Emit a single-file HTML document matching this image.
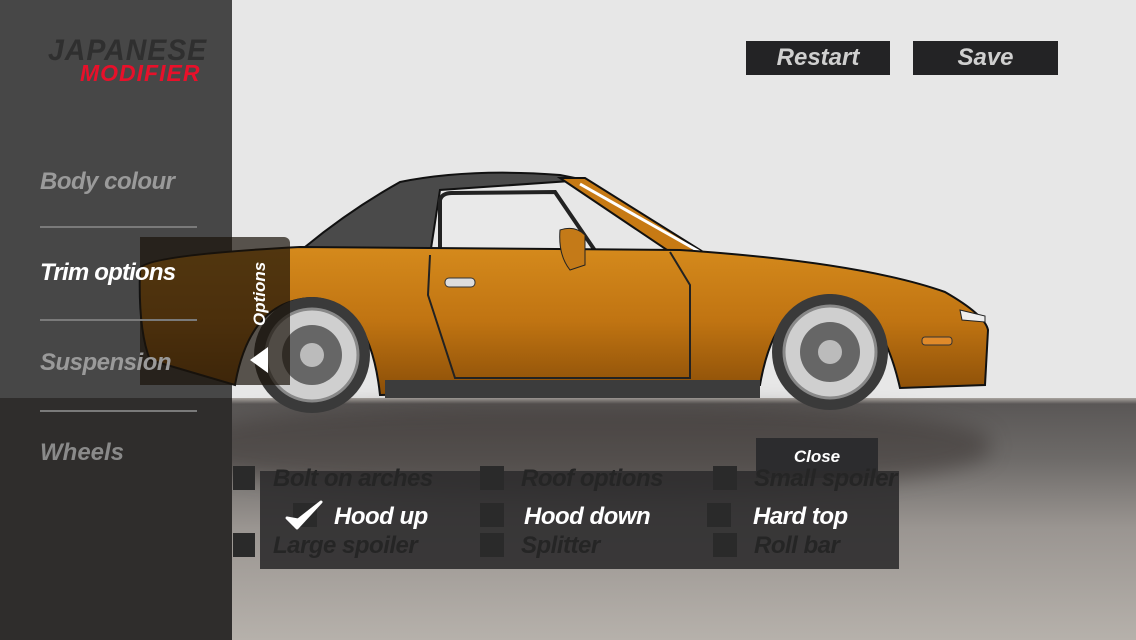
<!DOCTYPE html>
<html><head><meta charset="utf-8"><style>
*{margin:0;padding:0;box-sizing:border-box}
body{width:1136px;height:640px;overflow:hidden;position:relative;font-family:"Liberation Sans",sans-serif;background:#e6e6e6}
.abs{position:absolute}
.t{font-weight:bold;font-style:italic}
</style></head><body>
<div class="abs" style="left:0;top:0;width:1136px;height:398px;background:#e7e7e7"></div>
<div class="abs" style="left:0;top:398px;width:1136px;height:242px;background:linear-gradient(#a9a49f 0px,#5a5756 6px,#6d6a68 60px,#9a9591 130px,#b6b1ab 242px)"></div>
<div class="abs" style="left:180px;top:405px;width:810px;height:90px;background:rgba(50,45,42,0.45);border-radius:40% 40% 50% 50%;filter:blur(10px)"></div>
<div class="abs" style="left:0;top:0;width:232px;height:398px;background:#474747"></div>
<div class="abs" style="left:0;top:398px;width:232px;height:242px;background:#2f2d2c"></div>
<div class="abs t" style="left:48px;top:34px;font-size:30px;color:#2f2f2f;letter-spacing:1px;transform:scaleX(0.95);transform-origin:left">JAPANESE</div>
<div class="abs t" style="left:80px;top:60px;font-size:23px;color:#e8102a;letter-spacing:1px">MODIFIER</div>
<svg class="abs" style="left:0;top:0" width="1136" height="640">
<defs><linearGradient id="bd" x1="0" y1="0" x2="0" y2="1"><stop offset="0" stop-color="#d58a1c"/><stop offset="0.5" stop-color="#c07412"/><stop offset="1" stop-color="#8a4e08"/></linearGradient></defs>
<path d="M305,247 Q350,210 400,182 Q470,168 560,175 L585,180 L440,190 L430,255 Z" fill="#4a4a4a" stroke="#111" stroke-width="2"/>
<path d="M440,200 Q442,193 452,193 L555,192 L598,255 L440,255 Z" fill="#e9e9e9" stroke="#222" stroke-width="4"/>
<path d="M560,178 L585,178 L700,250 L670,252 Z" fill="#c77a14" stroke="#111" stroke-width="2"/>
<path d="M580,184 L700,252" stroke="#fff" stroke-width="3"/>
<path d="M140,268 Q150,255 300,247 L680,250 Q860,262 945,292 Q985,315 988,330 L985,385 L900,388 Q880,300 830,295 Q775,298 760,385 L380,395 Q370,300 312,298 Q250,300 235,385 L150,360 Q138,330 140,268 Z" fill="url(#bd)" stroke="#111" stroke-width="2"/>
<path d="M430,255 L428,295 L455,378 L690,378 L690,285 L670,252" fill="none" stroke="#222" stroke-width="2"/>
<rect x="385" y="380" width="375" height="18" fill="#3c3c3c"/>
<rect x="445" y="278" width="30" height="9" rx="4" fill="#ddd" stroke="#333"/>
<path d="M560,230 Q575,225 585,235 L585,265 L570,270 Q558,255 560,230Z" fill="#c47a18" stroke="#222"/>
<path d="M960,310 L985,316 L985,322 L962,320 Z" fill="#eee" stroke="#222"/>
<rect x="922" y="337" width="30" height="8" rx="3" fill="#e08a2a" stroke="#333"/>
<g>
<circle cx="312" cy="355" r="58" fill="#3a3a3a"/><circle cx="312" cy="355" r="46" fill="#cfcfcf" stroke="#888" stroke-width="3"/>
<circle cx="312" cy="355" r="30" fill="#666"/><circle cx="312" cy="355" r="12" fill="#bbb"/>
<circle cx="830" cy="352" r="58" fill="#3a3a3a"/><circle cx="830" cy="352" r="46" fill="#cfcfcf" stroke="#888" stroke-width="3"/>
<circle cx="830" cy="352" r="30" fill="#666"/><circle cx="830" cy="352" r="12" fill="#bbb"/>
</g>
</svg>
<div class="abs" style="left:140px;top:237px;width:150px;height:148px;background:rgba(25,18,10,0.7);border-radius:0 6px 0 0"></div>
<div class="abs t" style="left:230px;top:286px;font-size:17px;color:#fff;transform:rotate(-90deg);width:60px;text-align:center">Options</div>
<div class="abs" style="left:250px;top:347px;width:0;height:0;border-top:13px solid transparent;border-bottom:13px solid transparent;border-right:18px solid #fff"></div>
<div class="abs t" style="left:40px;top:168px;font-size:24px;color:#9a9a9a;letter-spacing:-0.5px">Body colour</div>
<div class="abs" style="left:40px;top:226px;width:157px;height:2px;background:#7a7a7a"></div>
<div class="abs t" style="left:40px;top:259px;font-size:24px;color:#fff;letter-spacing:-0.8px">Trim options</div>
<div class="abs" style="left:40px;top:319px;width:157px;height:2px;background:#7a7a7a"></div>
<div class="abs t" style="left:40px;top:349px;font-size:24px;color:#9a9a9a;letter-spacing:-0.5px">Suspension</div>
<div class="abs" style="left:40px;top:410px;width:157px;height:2px;background:#7a7a7a"></div>
<div class="abs t" style="left:40px;top:439px;font-size:24px;color:#8a8a8a">Wheels</div>
<div class="abs t" style="left:746px;top:41px;width:144px;height:34px;background:#232325;color:#cfcfcf;font-size:24px;text-align:center;line-height:34px">Restart</div>
<div class="abs t" style="left:913px;top:41px;width:145px;height:34px;background:#232325;color:#cfcfcf;font-size:24px;text-align:center;line-height:34px">Save</div>
<div class="abs t" style="left:756px;top:438px;width:122px;height:40px;background:#2c2c2e;color:#fff;font-size:17px;text-align:center;line-height:38px">Close</div>
<div class="abs" style="left:260px;top:471px;width:639px;height:98px;background:rgba(45,44,46,0.9)"></div>
<div class="abs" style="left:233px;top:466px;width:22px;height:24px;background:#2a2a2a"></div>
<div class="abs" style="left:480px;top:466px;width:24px;height:24px;background:#2a2a2a"></div>
<div class="abs" style="left:713px;top:466px;width:24px;height:24px;background:#2a2a2a"></div>
<div class="abs" style="left:293px;top:503px;width:24px;height:24px;background:#2a2a2a"></div>
<div class="abs" style="left:480px;top:503px;width:24px;height:24px;background:#2a2a2a"></div>
<div class="abs" style="left:707px;top:503px;width:24px;height:24px;background:#2a2a2a"></div>
<div class="abs" style="left:233px;top:533px;width:22px;height:24px;background:#2a2a2a"></div>
<div class="abs" style="left:480px;top:533px;width:24px;height:24px;background:#2a2a2a"></div>
<div class="abs" style="left:713px;top:533px;width:24px;height:24px;background:#2a2a2a"></div>
<div class="abs t" style="left:273px;top:465px;font-size:24px;color:#252525;letter-spacing:-0.5px">Bolt on arches</div>
<div class="abs t" style="left:521px;top:465px;font-size:24px;color:#252525;letter-spacing:-0.5px">Roof options</div>
<div class="abs t" style="left:754px;top:465px;font-size:24px;color:#252525;letter-spacing:-0.5px">Small spoiler</div>
<svg class="abs" style="left:285px;top:500px" width="40" height="32"><path d="M2,18 L12,28 L36,2 L13,20 Z" fill="#fff" stroke="#fff" stroke-width="3" stroke-linejoin="round"/></svg>
<div class="abs t" style="left:334px;top:503px;font-size:24px;color:#fff;letter-spacing:-0.5px">Hood up</div>
<div class="abs t" style="left:524px;top:503px;font-size:24px;color:#fff;letter-spacing:-0.5px">Hood down</div>
<div class="abs t" style="left:753px;top:503px;font-size:24px;color:#fff;letter-spacing:-0.5px">Hard top</div>
<div class="abs t" style="left:273px;top:532px;font-size:24px;color:#252525;letter-spacing:-0.5px">Large spoiler</div>
<div class="abs t" style="left:521px;top:532px;font-size:24px;color:#252525;letter-spacing:-0.5px">Splitter</div>
<div class="abs t" style="left:754px;top:532px;font-size:24px;color:#252525;letter-spacing:-0.5px">Roll bar</div>
</body></html>
